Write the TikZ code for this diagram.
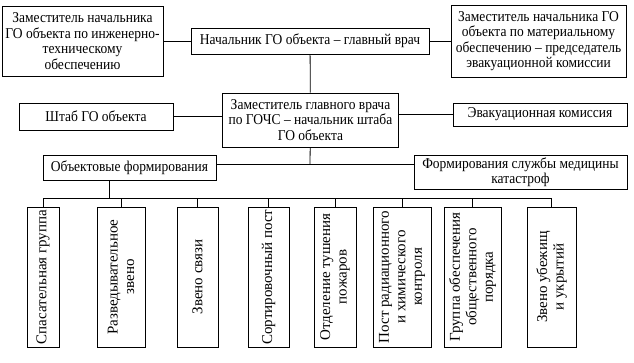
\documentclass[tikz,border=0pt]{standalone}
\usepackage{fontspec}
\setmainfont{Liberation Serif}
\newfontfamily\narrowserif[FakeStretch=0.9, Ligatures=TeX]{Liberation Serif}
\usepackage{tikz}
\usetikzlibrary{positioning,calc}

\begin{document}
\begin{tikzpicture}[
    x=1pt, y=-1pt,
    box/.style={draw, line width=0.8pt, align=center, inner sep=1pt, fill=white,
                font=\narrowserif\fontsize{15}{15.5}\selectfont},
    vbox/.style={draw, line width=0.8pt, align=center, inner sep=1pt, fill=white,
                 rotate=90, minimum width=140pt, font=\fontsize{15}{16.5}\selectfont},
    conn/.style={line width=0.8pt}
]
\useasboundingbox (0,0) rectangle (634,362);

%% Head
\node[box, minimum width=238pt, minimum height=26pt] (nach) at (310,41)
  {Начальник ГО объекта -- главный врач};

%% Deputies
\node[box, minimum width=161pt, minimum height=70pt] (zaming) at (82.5,41)
  {Заместитель начальника\\ГО объекта по инженерно-\\техническому\\обеспечению};
\node[box, minimum width=175pt, minimum height=72pt] (zammat) at (538.5,41)
  {Заместитель начальника ГО\\объекта по материальному\\обеспечению -- председатель\\эвакуационной комиссии};
\draw[conn] (zaming) -- (nach);
\draw[conn] (nach) -- (zammat);

%% Second level
\node[box, minimum width=176pt, minimum height=54pt] (zamgl) at (310.5,120)
  {Заместитель главного врача\\по ГОЧС -- начальник штаба\\ГО объекта};
\draw[conn] (nach) -- (zamgl);

\node[box, minimum width=154pt, minimum height=27pt] (shtab) at (96,116.5)
  {Штаб ГО объекта};
\node[box, minimum width=174pt, minimum height=23pt] (evak) at (540,114.5)
  {Эвакуационная комиссия};
\draw[conn] (shtab.east) -- (shtab.east -| zamgl.west);
\draw[conn] (evak.west) -- (evak.west -| zamgl.east);

%% Formations
\node[box, minimum width=173pt, minimum height=25pt] (obform) at (129.5,167.5)
  {Объектовые формирования};
\node[box, minimum width=213pt, minimum height=34pt] (medform) at (520.5,172)
  {Формирования службы медицины\\катастроф};
\coordinate (midbus) at (310,164);
\draw[conn] (zamgl) -- (midbus);
\draw[conn] (obform.east |- midbus) -- (medform.west |- midbus);

%% Object units
\coordinate (busL) at (43,198);
\coordinate (busR) at (552,198);
\coordinate (obdrop) at (109,180);
\draw[conn] (obdrop) -- (obdrop |- busL);
\draw[conn] (busL) -- (busR);

\node[vbox, minimum height=32pt] (u1) at (43,277)
  {Спасательная группа};
\node[vbox, minimum height=48pt] (u2) at (121,277)
  {Разведывательное\\звено};
\node[vbox, minimum height=41pt] (u3) at (197.5,277)
  {Звено связи};
\node[vbox, minimum height=41pt] (u4) at (268.5,277)
  {Сортировочный пост};
\node[vbox, minimum height=42pt] (u5) at (335,277)
  {Отделение тушения\\пожаров};
\node[vbox, minimum height=58pt] (u6) at (402,277)
  {Пост радиационного\\и химического\\контроля};
\node[vbox, minimum height=57pt] (u7) at (472.5,277)
  {Группа обеспечения\\общественного\\порядка};
\node[vbox, minimum height=49pt] (u8) at (551.5,277)
  {Звено убежищ\\и укрытий};

\draw[conn] (u1.east) -- (u1.east |- busL);
\draw[conn] (u2.east) -- (u2.east |- busL);
\draw[conn] (u3.east) -- (u3.east |- busL);
\draw[conn] (u4.east) -- (u4.east |- busL);
\draw[conn] (u5.east) -- (u5.east |- busL);
\draw[conn] (u6.east) -- (u6.east |- busL);
\draw[conn] (u7.east) -- (u7.east |- busL);
\draw[conn] (u8.east) -- (u8.east |- busL);

\end{tikzpicture}
\end{document}
